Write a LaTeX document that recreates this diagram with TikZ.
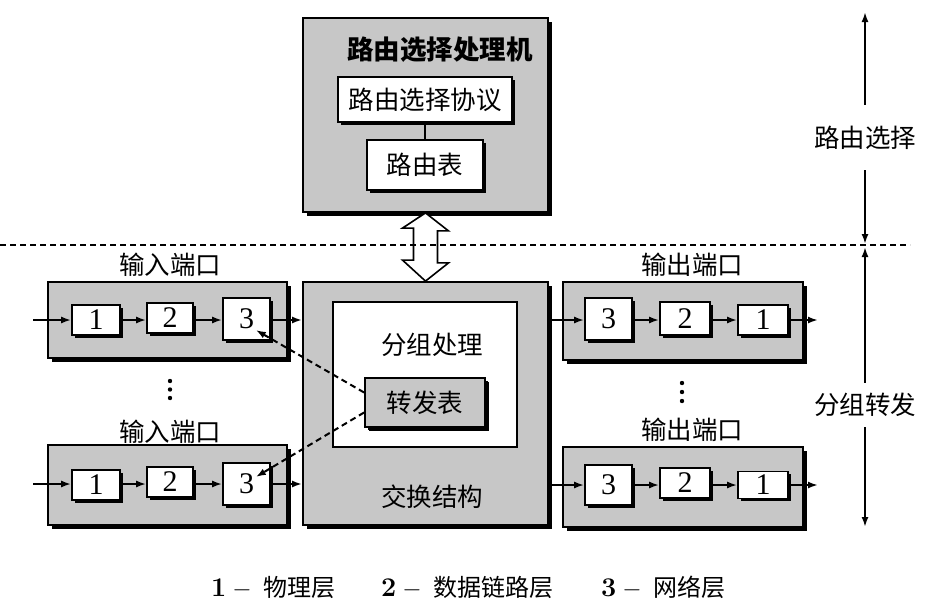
\documentclass[tikz,border=0pt]{standalone}
\usepackage{fontspec}
\newfontfamily\cjk{Noto Sans CJK SC}
\newfontfamily\tnr{Liberation Serif}
\usetikzlibrary{shadows,arrows.meta,calc}
\begin{document}
\begin{tikzpicture}[x=1pt,y=-1pt,
  gbox/.style={draw, line width=1.8pt, fill=black!22, inner sep=0pt,
    drop shadow={shadow xshift=3.5pt, shadow yshift=-3.5pt, opacity=1, fill=black}},
  wbox/.style={draw, line width=1.6pt, fill=white, inner sep=0pt,
    drop shadow={shadow xshift=2.5pt, shadow yshift=-2.5pt, opacity=1, fill=black}},
  cn/.style={font=\cjk\fontsize{25.5}{28}\selectfont, inner sep=0pt},
  cnb/.style={font=\cjk\bfseries\fontsize{26.5}{28}\selectfont, inner sep=0pt},
  dg/.style={font=\tnr\fontsize{30}{30}\selectfont},
  arr/.style={line width=2pt, -{Latex[length=10pt,width=7pt]}},
  dsh/.style={line width=2pt, dash pattern=on 6pt off 4pt},
  leg/.style={font=\fontsize{27}{30}\selectfont, anchor=west, inner sep=0pt}
]
\useasboundingbox (0,0) rectangle (938,614);

% ---------- routing processor ----------
\node[gbox, minimum width=245, minimum height=194] (R) at (425.5,115) {};
\node[cnb] (title) at (440,50) {路由选择处理机};
\node[wbox, cn, minimum width=174, minimum height=45] (proto) at (425,99.5) {路由选择协议};
\node[wbox, cn, minimum width=116, minimum height=50] (rt) at (425,165) {路由表};
\draw[line width=2.2pt] (proto.south) -- (rt.north);

% ---------- switch fabric ----------
\node[gbox, minimum width=245, minimum height=243] (S) at (425.5,403.5) {};
\node[draw, line width=1.6pt, fill=white, minimum width=184, minimum height=145] (pp) at (425,374.5) {};
\node[cn] (pplabel) at (432,345) {分组处理};
\node[gbox, cn, minimum width=120, minimum height=49,
  drop shadow={shadow xshift=2.5pt, shadow yshift=-2.5pt, opacity=1, fill=black}] (fwd) at (425,402.5) {转发表};
\node[cn] (sflabel) at (432,497) {交换结构};

% ---------- double arrow between processor and fabric ----------
\draw[line width=1.6pt, fill=white]
  ($(R.south)+(0,0)$) -- ++(23,18) -- ++(-11,0) -- ++(0,32) -- ++(11,0)
  -- ($(S.north)+(0,0)$) -- ++(-23,-21) -- ++(11,0) -- ++(0,-32) -- ++(-11,0) -- cycle;

% ---------- horizontal dashed line ----------
\coordinate (dl) at (0,245);
\coordinate (dr) at (910,245);
\draw[dsh] (dl) -- (dr);

% ---------- input ports ----------
\node[cn] (inlab1) at (170,265) {输入端口};
\node[gbox, minimum width=239, minimum height=76] (in1) at (167.5,320) {};
\node[wbox, dg, minimum width=48, minimum height=30] (a11) at (96,320) {1};
\node[wbox, dg, minimum width=46, minimum height=30] (a12) at (170,318) {2};
\node[wbox, dg, minimum width=47, minimum height=42] (a13) at (246.5,319) {3};
\coordinate (i1) at (33,320);
\draw[arr] (i1) -- (a11.west |- i1);
\draw[arr] (a11.east |- i1) -- (a12.west |- i1);
\draw[arr] (a12.east |- i1) -- (a13.west |- i1);
\draw[arr] (a13.east |- i1) -- (S.west |- i1);

\node[cn] (inlab2) at (170,432) {输入端口};
\node[gbox, minimum width=239, minimum height=80] (in2) at (167.5,485) {};
\node[wbox, dg, minimum width=48, minimum height=30] (a21) at (96,485) {1};
\node[wbox, dg, minimum width=46, minimum height=30] (a22) at (170,482) {2};
\node[wbox, dg, minimum width=47, minimum height=42] (a23) at (246.5,484) {3};
\coordinate (i2) at (33,484);
\draw[arr] (i2) -- (a21.west |- i2);
\draw[arr] (a21.east |- i2) -- (a22.west |- i2);
\draw[arr] (a22.east |- i2) -- (a23.west |- i2);
\draw[arr] (a23.east |- i2) -- (S.west |- i2);

\fill (170,381) circle (2.2) (170,389.5) circle (2.2) (170,398) circle (2.2);

% ---------- output ports ----------
\node[cn] (outlab1) at (692,265) {输出端口};
\node[gbox, minimum width=240, minimum height=78] (out1) at (683,321) {};
\node[wbox, dg, minimum width=47, minimum height=42] (b13) at (608.5,319) {3};
\node[wbox, dg, minimum width=50, minimum height=33] (b12) at (685,318.5) {2};
\node[wbox, dg, minimum width=50, minimum height=30] (b11) at (763,320) {1};
\coordinate (o1) at (818,320);
\draw[arr] (S.east |- o1) -- (b13.west |- o1);
\draw[arr] (b13.east |- o1) -- (b12.west |- o1);
\draw[arr] (b12.east |- o1) -- (b11.west |- o1);
\draw[arr] (b11.east |- o1) -- (o1);

\node[cn] (outlab2) at (692,430) {输出端口};
\node[gbox, minimum width=240, minimum height=80] (out2) at (683,487) {};
\node[wbox, dg, minimum width=47, minimum height=40] (b23) at (608.5,485) {3};
\node[wbox, dg, minimum width=50, minimum height=30] (b22) at (685,483) {2};
\node[wbox, dg, minimum width=50, minimum height=27] (b21) at (763,485) {1};
\coordinate (o2) at (818,485);
\draw[arr] (S.east |- o2) -- (b23.west |- o2);
\draw[arr] (b23.east |- o2) -- (b22.west |- o2);
\draw[arr] (b22.east |- o2) -- (b21.west |- o2);
\draw[arr] (b21.east |- o2) -- (o2);

\fill (682,383) circle (2.2) (682,392) circle (2.2) (682,401) circle (2.2);

% ---------- dashed links from forwarding table ----------
\coordinate (f1) at ($(fwd.west)+(0,-10)$);
\coordinate (f2) at ($(fwd.west)+(0,10)$);
\coordinate (t1) at ($(a13.east)+(-15,11)$);
\coordinate (t2) at ($(a23.east)+(-15,-7)$);
\draw[dsh, -{Latex[length=10pt,width=7pt]}] (f1) -- (t1);
\draw[dsh, -{Latex[length=10pt,width=7pt]}] (f2) -- (t2);

% ---------- right-hand scale ----------
\node[cn, minimum height=65] (lr) at (865,137.5) {路由选择};
\node[cn, minimum height=44] (lf) at (865,405) {分组转发};
\coordinate (ta) at (865,12);
\coordinate (tm1) at (865,244);
\coordinate (tm2) at (865,247);
\coordinate (tb) at (865,527);
\draw[arr] (lr.north) -- (ta);
\draw[arr] (lr.south) -- (tm1);
\draw[arr] (lf.north) -- (tm2);
\draw[arr] (lf.south) -- (tb);

% ---------- legend ----------
\node[leg] (leg1) at (211,587) {{\bfseries 1}\hspace{6pt}$-$\hspace{12pt}{\cjk\fontsize{24}{28}\selectfont 物理层}};
\node[leg] (leg2) at (381,587) {{\bfseries 2}\hspace{6pt}$-$\hspace{12pt}{\cjk\fontsize{24}{28}\selectfont 数据链路层}};
\node[leg] (leg3) at (601,587) {{\bfseries 3}\hspace{6pt}$-$\hspace{12pt}{\cjk\fontsize{24}{28}\selectfont 网络层}};
\end{tikzpicture}
\end{document}
